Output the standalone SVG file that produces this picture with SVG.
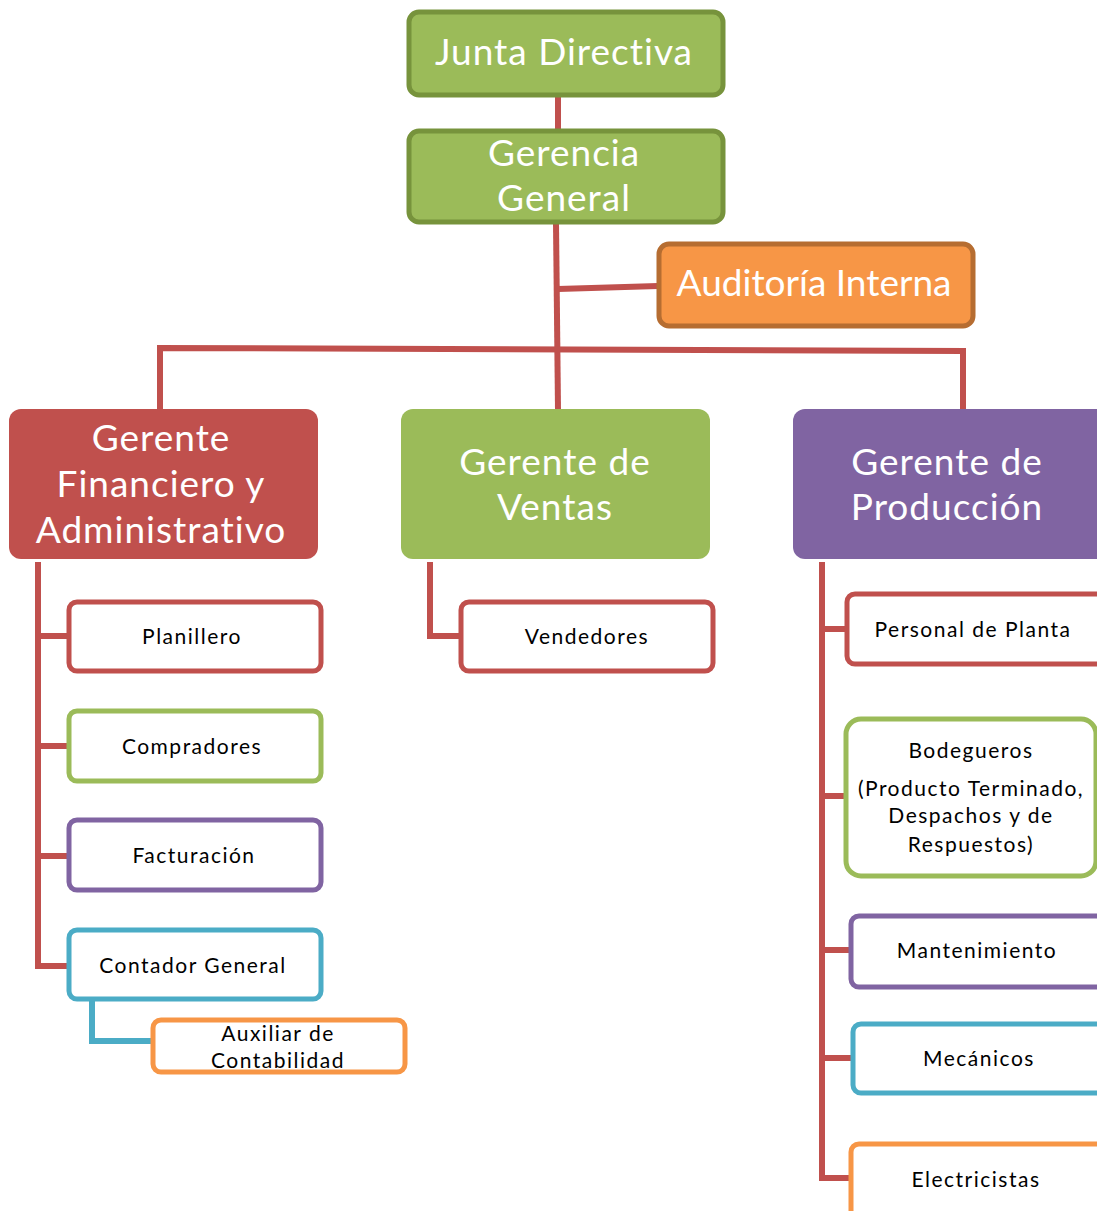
<svg xmlns="http://www.w3.org/2000/svg" width="1097" height="1211" viewBox="0 0 1097 1211">
  <style>
    text { font-variant-ligatures: none; }
    .big { font-family: Lato, "Open Sans", "Liberation Sans", sans-serif; font-size: 37px; fill: #ffffff; text-anchor: middle; letter-spacing: 1px; }
    .tight { letter-spacing: 0px; }
    .small { font-family: Lato, "Open Sans", "Liberation Sans", sans-serif; font-size: 21px; fill: #000000; text-anchor: middle; letter-spacing: 1.5px; }
    .link { fill: none; stroke: #C0504D; stroke-width: 6; stroke-linejoin: miter; }
    .sub { fill: #ffffff; stroke-width: 5; }
  </style>
  <rect width="1097" height="1211" fill="#ffffff"/>

  <!-- connectors -->
  <g id="connectors">
    <line class="link" x1="558" y1="96" x2="558" y2="130"/>
    <line class="link" x1="556" y1="223" x2="558" y2="409"/>
    <line class="link" x1="558" y1="289" x2="658" y2="286"/>
    <polyline class="link" points="160,409 160,348 963,351 963,409"/>
    <polyline class="link" points="38,562 38,966 68,966"/>
    <line class="link" x1="38" y1="636" x2="68" y2="636"/>
    <line class="link" x1="38" y1="746" x2="68" y2="746"/>
    <line class="link" x1="38" y1="856" x2="68" y2="856"/>
    <polyline class="link" points="430,562 430,636 460,636"/>
    <polyline class="link" points="822,562 822,1178 850,1178"/>
    <line class="link" x1="822" y1="629" x2="846" y2="629"/>
    <line class="link" x1="822" y1="796" x2="845" y2="796"/>
    <line class="link" x1="822" y1="950" x2="850" y2="950"/>
    <line class="link" x1="822" y1="1058" x2="852" y2="1058"/>
    <polyline fill="none" stroke="#4BACC6" stroke-width="6" points="92,1000 92,1041 152,1041"/>
  </g>

  <g id="junta">
    <rect x="409" y="12" width="314" height="83" rx="10" fill="#9BBB59" stroke="#77933C" stroke-width="5"/>
    <text class="big" x="564" y="65">Junta Directiva</text>
  </g>

  <g id="gerencia">
    <rect x="409" y="131" width="314" height="91" rx="10" fill="#9BBB59" stroke="#77933C" stroke-width="5"/>
    <text class="big" x="564" y="166">Gerencia</text>
    <text class="big" x="564" y="211">General</text>
  </g>

  <g id="auditoria">
    <rect x="659" y="244" width="314" height="82" rx="10" fill="#F79646" stroke="#B66D31" stroke-width="5"/>
    <text class="big tight" x="814" y="296">Auditoría Interna</text>
  </g>

  <g id="financiero">
    <rect x="9" y="409" width="309" height="150" rx="12" fill="#C0504D"/>
    <text class="big" x="161" y="451">Gerente</text>
    <text class="big" x="161" y="497">Financiero y</text>
    <text class="big" x="161" y="543">Administrativo</text>
  </g>

  <g id="ventas">
    <rect x="401" y="409" width="309" height="150" rx="12" fill="#9BBB59"/>
    <text class="big" x="555" y="475">Gerente de</text>
    <text class="big" x="555" y="520">Ventas</text>
  </g>

  <g id="produccion">
    <rect x="793" y="409" width="320" height="150" rx="12" fill="#8064A2"/>
    <text class="big" x="947" y="475">Gerente de</text>
    <text class="big" x="947" y="520">Producción</text>
  </g>

  <g id="planillero">
    <rect class="sub" x="69" y="602" width="252" height="69" rx="8" stroke="#C0504D"/>
    <text class="small" x="192" y="644">Planillero</text>
  </g>
  <g id="compradores">
    <rect class="sub" x="69" y="711" width="252" height="70" rx="8" stroke="#9BBB59"/>
    <text class="small" x="192" y="754">Compradores</text>
  </g>
  <g id="facturacion">
    <rect class="sub" x="69" y="820" width="252" height="70" rx="8" stroke="#8064A2"/>
    <text class="small" x="194" y="863">Facturación</text>
  </g>
  <g id="contador">
    <rect class="sub" x="69" y="930" width="252" height="69" rx="8" stroke="#4BACC6"/>
    <text class="small" x="193" y="973">Contador General</text>
  </g>
  <g id="auxiliar">
    <rect class="sub" x="153" y="1020" width="252" height="52" rx="8" stroke="#F79646"/>
    <text class="small" x="278" y="1041">Auxiliar de</text>
    <text class="small" x="278" y="1068">Contabilidad</text>
  </g>

  <g id="vendedores">
    <rect class="sub" x="461" y="602" width="252" height="69" rx="8" stroke="#C0504D"/>
    <text class="small" x="587" y="644">Vendedores</text>
  </g>

  <g id="personal">
    <rect class="sub" x="847" y="594" width="260" height="70" rx="8" stroke="#C0504D"/>
    <text class="small" x="973" y="637">Personal de Planta</text>
  </g>
  <g id="bodegueros">
    <rect class="sub" x="846" y="719" width="250" height="157" rx="15" stroke="#9BBB59"/>
    <text class="small" x="971" y="758">Bodegueros</text>
    <text class="small" x="971" y="796">(Producto Terminado,</text>
    <text class="small" x="971" y="823">Despachos y de</text>
    <text class="small" x="971" y="852">Respuestos)</text>
  </g>
  <g id="mantenimiento">
    <rect class="sub" x="851" y="916" width="260" height="71" rx="8" stroke="#8064A2"/>
    <text class="small" x="977" y="958">Mantenimiento</text>
  </g>
  <g id="mecanicos">
    <rect class="sub" x="853" y="1024" width="260" height="69" rx="8" stroke="#4BACC6"/>
    <text class="small" x="979" y="1066">Mecánicos</text>
  </g>
  <g id="electricistas">
    <rect class="sub" x="851" y="1144" width="260" height="80" rx="8" stroke="#F79646"/>
    <text class="small" x="976" y="1187">Electricistas</text>
  </g>
</svg>
